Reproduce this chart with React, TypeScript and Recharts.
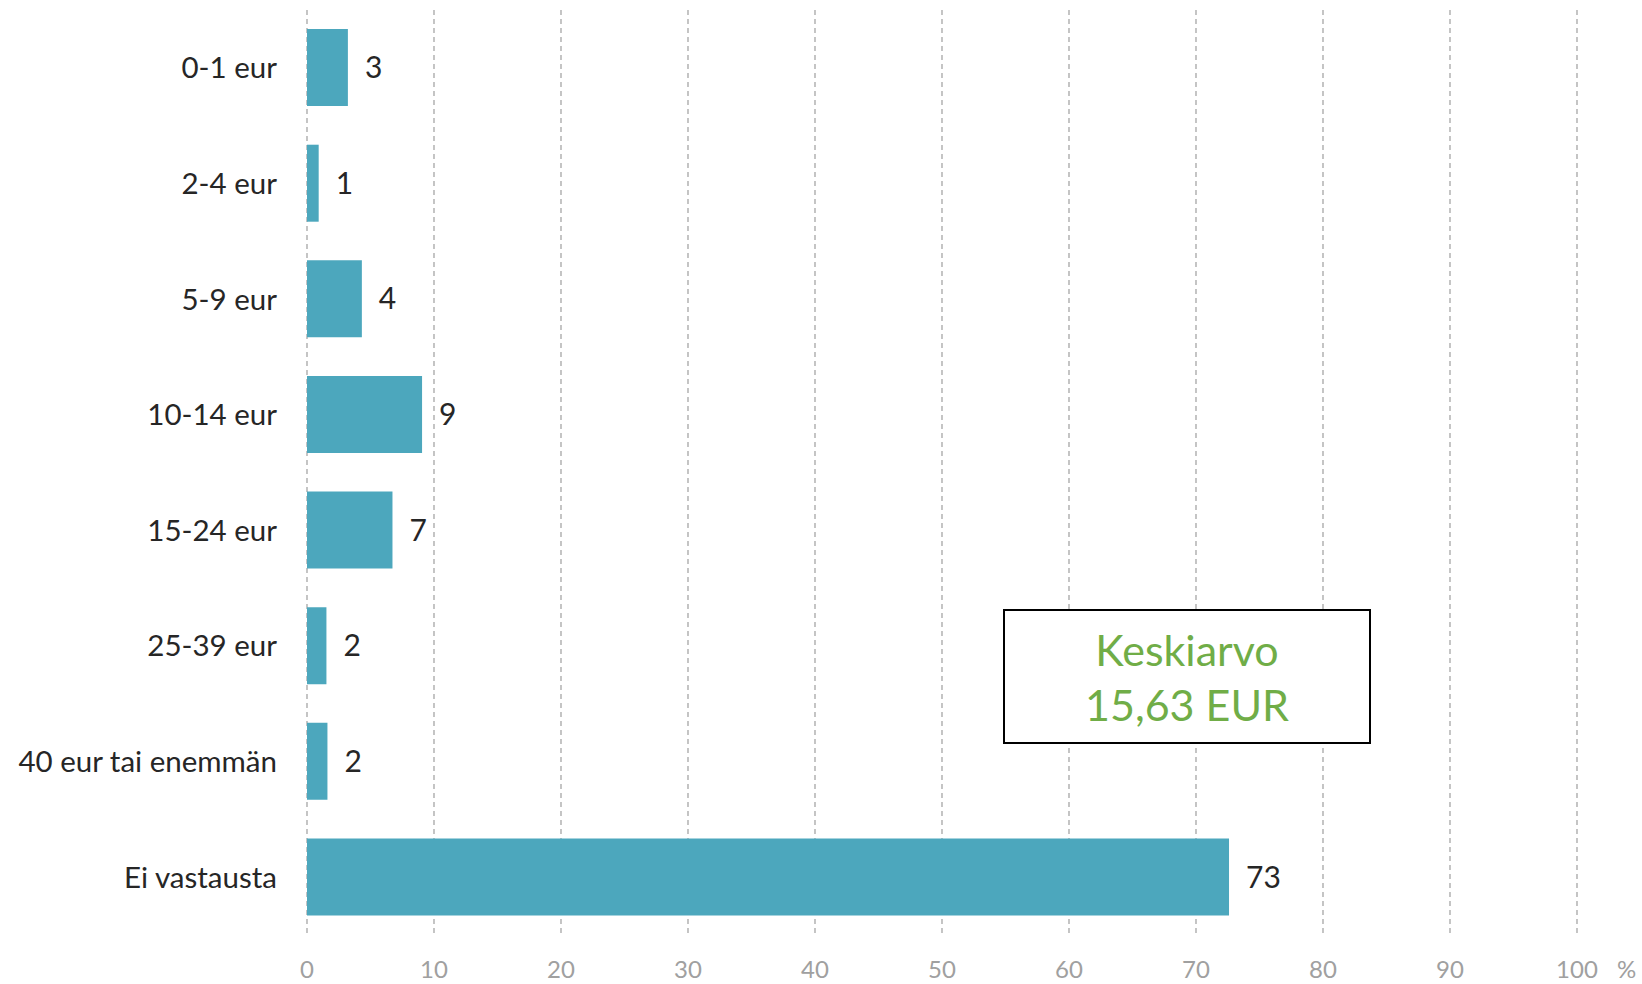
import React from 'react';
import { BarChart, Bar, XAxis, YAxis, CartesianGrid, LabelList } from 'recharts';

const categories = ['0-1 eur', '2-4 eur', '5-9 eur', '10-14 eur', '15-24 eur', '25-39 eur', '40 eur tai enemmän', 'Ei vastausta'];
const values = [3.22, 0.92, 4.32, 9.06, 6.73, 1.53, 1.61, 72.6];
const xTicks = [0, 10, 20, 30, 40, 50, 60, 70, 80, 90, 100];
const boxLines = ['Keskiarvo', '15,63 EUR'];

const data = categories.map((c, i) => ({ name: c, value: values[i] }));

const FONT = 'Lato, "Open Sans", sans-serif';

export default function App() {
  return (
    <div style={{ position: 'absolute', left: 0, top: 0, width: 1642, height: 984, background: '#fff', fontFamily: FONT }}>
      <BarChart
        width={1642}
        height={984}
        data={data}
        layout="vertical"
        margin={{ top: 10, right: 65, bottom: 0, left: 0 }}
        barCategoryGap="16.5%"
      >
        <CartesianGrid horizontal={false} vertical stroke="#a6a6a6" strokeDasharray="5 4" strokeWidth={1.3} />
        <XAxis
          type="number"
          domain={[0, 100]}
          ticks={xTicks}
          interval={0}
          axisLine={false}
          tickLine={false}
          height={49}
          tickMargin={20}
          tick={{ fill: '#a0a0a0', fontSize: 24, fontFamily: FONT }}
          label={{ value: '%', position: 'right', offset: 40, dy: 10, fill: '#a0a0a0', fontSize: 24, fontFamily: FONT } as any}
        />
        <YAxis
          type="category"
          dataKey="name"
          width={307}
          axisLine={false}
          tickLine={false}
          tickSize={0}
          tickMargin={30}
          interval={0}
          tick={{ fill: '#262626', fontSize: 29.5, fontFamily: FONT }}
        />
        <Bar dataKey="value" fill="#4ca7bd" isAnimationActive={false}>
          <LabelList
            dataKey="value"
            position="right"
            offset={17}
            formatter={(v: any) => Math.round(Number(v))}
            style={{ fill: '#262626', fontSize: 30, fontFamily: FONT }}
          />
        </Bar>
      </BarChart>
      <div
        style={{
          position: 'absolute',
          left: 1003,
          top: 609,
          width: 368,
          height: 135,
          boxSizing: 'border-box',
          border: '2px solid #000',
          background: '#fff',
          color: '#70ad47',
          fontSize: 43,
          fontFamily: FONT,
          display: 'flex',
          flexDirection: 'column',
          alignItems: 'center',
          justifyContent: 'center',
          lineHeight: '55px',
        }}
      >
        {boxLines.map((t) => (
          <div key={t}>{t}</div>
        ))}
      </div>
    </div>
  );
}
